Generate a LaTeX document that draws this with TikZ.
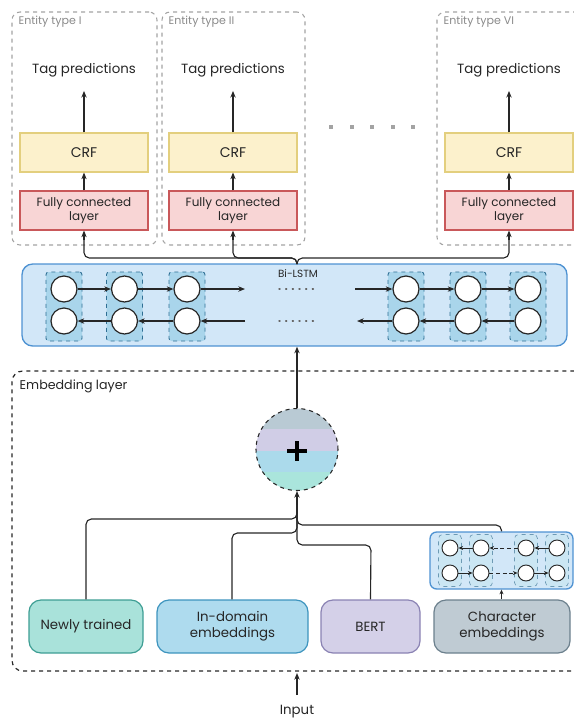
\documentclass[tikz,border=0pt]{standalone}
\usepackage{fontspec}
\setmainfont{Poppins}
\usetikzlibrary{arrows.meta}
\definecolor{txt}{HTML}{262626}
\definecolor{grayb}{HTML}{A3A3A3}
\definecolor{graytxt}{HTML}{8A8A8A}
\definecolor{lstmfill}{HTML}{D2E7F8}
\definecolor{lstmdraw}{HTML}{4E92D2}
\definecolor{cellfill}{HTML}{A9D5EB}
\definecolor{celldraw}{HTML}{2F6F94}
\definecolor{crffill}{HTML}{FCF1CC}
\definecolor{crfdraw}{HTML}{E3CF7E}
\definecolor{fcfill}{HTML}{F8D5D5}
\definecolor{fcdraw}{HTML}{C9585A}
\definecolor{nwfill}{HTML}{A9E2DA}
\definecolor{nwdraw}{HTML}{3E9E94}
\definecolor{idfill}{HTML}{AEDBEE}
\definecolor{iddraw}{HTML}{3D94BE}
\definecolor{btfill}{HTML}{D4D0E8}
\definecolor{btdraw}{HTML}{8A82B3}
\definecolor{chfill}{HTML}{BFCBD3}
\definecolor{chdraw}{HTML}{6C808D}
\definecolor{bandA}{HTML}{B9CAD4}
\definecolor{bandB}{HTML}{D0CDE6}
\definecolor{bandC}{HTML}{ABDAEB}
\definecolor{bandD}{HTML}{AAE5DC}
\begin{document}
\begin{tikzpicture}[x=0.75pt,y=-0.75pt,
  every node/.style={text=txt},
  arr/.style={-{Stealth[length=5pt,width=4pt]}, line width=0.85pt, draw=txt},
  sarr/.style={-{Stealth[length=3.5pt,width=3pt]}, line width=0.7pt, draw=txt},
  conn/.style={line width=0.85pt, draw=txt, rounded corners=4pt},
  entbox/.style={draw=grayb, dashed, line width=0.8pt, rounded corners=6pt, minimum width={#1*0.75pt}, minimum height={233*0.75pt}},
  boxbase/.style={rectangle, line width=0.9pt, align=center, inner sep=1pt, font=\fontsize{10.5}{12}\selectfont},
  crfbox/.style={boxbase, fill=crffill, draw=crfdraw, minimum width={128*0.75pt}, minimum height={39*0.75pt}},
  fcbox/.style={boxbase, fill=fcfill, draw=fcdraw, minimum width={128*0.75pt}, minimum height={39*0.75pt}, font=\fontsize{9}{10.5}\selectfont},
  tagtxt/.style={font=\fontsize{10}{12}\selectfont},
  enttxt/.style={anchor=west, text=graytxt, font=\fontsize{8.3}{10}\selectfont},
  cell/.style={rectangle, draw=celldraw, dashed, fill=cellfill, line width=0.7pt, rounded corners=2pt, minimum width={36*0.75pt}, minimum height={69*0.75pt}},
  bigc/.style={circle, draw=txt, fill=white, line width=0.9pt, minimum size={26*0.75pt}, inner sep=0pt},
  smc/.style={circle, draw=txt, fill=white, line width=0.7pt, minimum size={16*0.75pt}, inner sep=0pt},
  scell/.style={rectangle, draw=celldraw!70, dashed, fill=cellfill!60, line width=0.5pt, rounded corners=3pt, minimum width={23*0.75pt}, minimum height={52*0.75pt}},
  embbox/.style={rectangle, rounded corners=9pt, line width=0.9pt, align=center, font=\fontsize{10}{12}\selectfont, minimum height={53*0.75pt}, minimum width={#1*0.75pt}},
  lstmdots/.style={line width=1pt, draw=txt!70, dash pattern=on 0.8pt off 4.2pt, line cap=round}
]
\useasboundingbox (0,0) rectangle (574,719);
\clip (0,0) rectangle (574,719);

% entity boxes
\node[entbox=145] (ent1) at (84.5,128.5) {};
\node[entbox=143] (ent2) at (233.5,128.5) {};
\node[entbox=148] (ent3) at (511,128.5) {};
\node[enttxt] (el1) at (14,22) {Entity type I};
\node[enttxt] (el2) at (164,22) {Entity type II};
\node[enttxt] (el3) at (439,22) {Entity type VI};

\node[tagtxt] (tag1) at (84,70) {Tag predictions};
\node[tagtxt] (tag2) at (233,70) {Tag predictions};
\node[tagtxt] (tag3) at (509,70) {Tag predictions};

\node[crfbox] (crf1) at (84,152.5) {CRF};
\node[crfbox] (crf2) at (233,152.5) {CRF};
\node[crfbox] (crf3) at (509,152.5) {CRF};

\node[fcbox] (fc1) at (84,210.5) {Fully connected\\layer};
\node[fcbox] (fc2) at (233,210.5) {Fully connected\\layer};
\node[fcbox] (fc3) at (509,210.5) {Fully connected\\layer};

\foreach \i in {1,2,3}{
  \draw[arr, shorten >=7pt] (crf\i.north) -- (tag\i.south);
  \draw[arr] (fc\i.north) -- (crf\i.south);
}

% dots between groups
\foreach \xx in {331,351.5,372,392.5,413}{
  \fill[grayb] (\xx-2,125) rectangle (\xx+2,129);
}

% Bi-LSTM
\node[rectangle, fill=lstmfill, draw=lstmdraw, line width=1pt, rounded corners=8pt, minimum width={545*0.75pt}, minimum height={82*0.75pt}] (lstm) at (294.5,305) {};
\node[font=\fontsize{7.8}{9}\selectfont] (lstmlab) at (298,274) {Bi-LSTM};

\foreach \n/\xx in {1/64,2/124.5,3/187,4/406,5/468,6/528}{
  \node[cell] (cell\n) at (\xx,306.5) {};
  \node[bigc] (t\n) at (\xx,289) {};
  \node[bigc] (b\n) at (\xx,321) {};
}
\coordinate (tl) at (245,289);
\coordinate (tr) at (355,289);
\coordinate (bl) at (245,321);
\coordinate (br) at (357,321);
\draw[arr] (t1) -- (t2);
\draw[arr] (t2) -- (t3);
\draw[arr] (t3) -- (tl);
\draw[arr] (tr) -- (t4);
\draw[arr] (t4) -- (t5);
\draw[arr] (t5) -- (t6);
\draw[arr] (b2) -- (b1);
\draw[arr] (b3) -- (b2);
\draw[arr] (bl) -- (b3);
\draw[arr] (b4) -- (br);
\draw[arr] (b5) -- (b4);
\draw[arr] (b6) -- (b5);
\draw[lstmdots] (279,289) -- (318,289);
\draw[lstmdots] (279,321) -- (318,321);

% junction to heads
\draw[conn] (297,264) -- (297,258) -- (84,258) -- (84,240);
\draw[conn] (297,264) -- (297,258) -- (233,258) -- (233,240);
\draw[conn] (297,264) -- (297,258) -- (509,258) -- (509,240);
\draw[arr] (84,240) -- (fc1.south);
\draw[arr] (233,240) -- (fc2.south);
\draw[arr] (509,240) -- (fc3.south);

% embedding layer
\node[rectangle, draw=txt, dashed, line width=0.9pt, rounded corners=8pt, minimum width={573*0.75pt}, minimum height={300*0.75pt}] (emb) at (298.5,521) {};
\node[anchor=west, font=\fontsize{9.5}{11}\selectfont] (emblab) at (15,386) {Embedding layer};

% plus circle
\begin{scope}
  \clip (297,449.5) circle (41);
  \fill[bandA] (250,400) rectangle (345,429);
  \fill[bandB] (250,429) rectangle (345,451);
  \fill[bandC] (250,451) rectangle (345,472);
  \fill[bandD] (250,472) rectangle (345,500);
\end{scope}
\node[circle, draw=txt, dashed, line width=0.8pt, minimum size={82*0.75pt}, inner sep=0pt] (plus) at (297,449.5) {};
\draw[line width=2.6pt, draw=black] (287,451) -- (307,451);
\draw[line width=2.6pt, draw=black] (297,441) -- (297,461);
\draw[arr] (plus.north) -- (plus.north |- lstm.south);

% bottom boxes
\node[embbox=114, fill=nwfill, draw=nwdraw] (newly) at (86,626.5) {Newly trained};
\node[embbox=151, fill=idfill, draw=iddraw] (indom) at (232.5,626.5) {In-domain\\embeddings};
\node[embbox=99, fill=btfill, draw=btdraw] (bert) at (370.5,626.5) {BERT};
\node[embbox=136, fill=chfill, draw=chdraw] (chare) at (502,626.5) {Character\\embeddings};

% char LSTM
\node[rectangle, fill=lstmfill, draw=lstmdraw, line width=1pt, rounded corners=5pt, minimum width={143*0.75pt}, minimum height={57*0.75pt}] (clstm) at (501.5,560.5) {};
\foreach \n/\xx in {1/450,2/481,3/526,4/557}{
  \node[scell] (sc\n) at (\xx,560.5) {};
  \node[smc] (st\n) at (\xx,548) {};
  \node[smc] (sb\n) at (\xx,573) {};
}
\draw[sarr] (st2) -- (st1);
\draw[sarr, densely dashed] (st3) -- (st2);
\draw[sarr] (st4) -- (st3);
\draw[sarr] (sb1) -- (sb2);
\draw[sarr, densely dashed] (sb2) -- (sb3);
\draw[sarr] (sb3) -- (sb4);
\draw[sarr] (chare.north -| clstm.south) -- (clstm.south);

% branches into plus
\draw[conn] (newly.north) -- (86,519) -- (297,519) -- (297,500);
\draw[conn] (indom.north -| 232,0) -- (232,533) -- (297,533) -- (297,500);
\draw[conn] (bert.north) -- (371,545) -- (297,545) -- (297,500);
\draw[conn] (clstm.north) -- (501.5,525) -- (297,525) -- (297,500);
\draw[arr] (297,505) -- (plus.south);

% input
\node[font=\fontsize{10}{12}\selectfont] (inp) at (297,712) {Input};
\draw[arr] (297,695) -- (297,673);
\end{tikzpicture}
\end{document}
